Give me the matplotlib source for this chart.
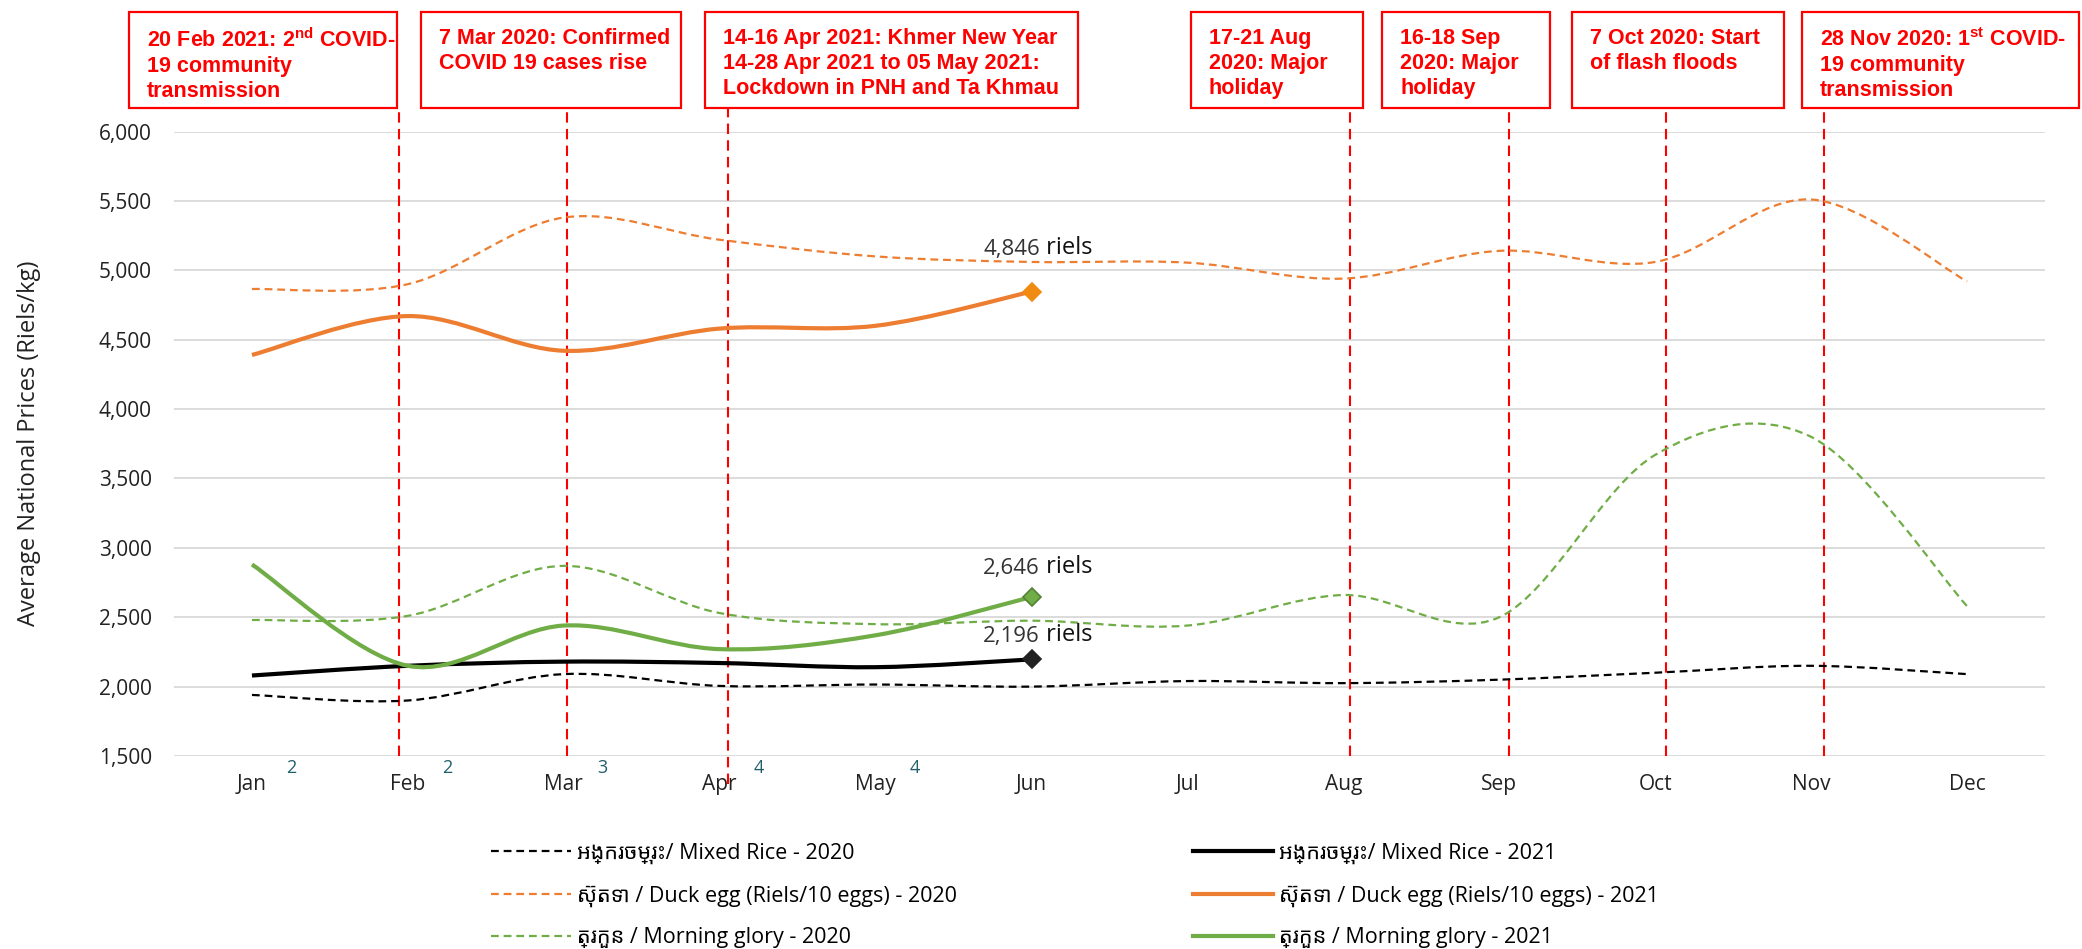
import matplotlib
matplotlib.use("Agg")
import matplotlib.pyplot as plt
from matplotlib.path import Path
from matplotlib.patches import PathPatch, Rectangle
from matplotlib.lines import Line2D
import matplotlib.transforms as mtransforms

plt.rcParams['font.family'] = ['Open Sans', 'Noto Sans Khmer', 'Khmer OS', 'Noto Sans', 'DejaVu Sans']
plt.rcParams['mathtext.fontset'] = 'custom'
plt.rcParams['mathtext.rm'] = 'Liberation Sans'
plt.rcParams['mathtext.bf'] = 'Liberation Sans:bold'

months = ['Jan', 'Feb', 'Mar', 'Apr', 'May', 'Jun', 'Jul', 'Aug', 'Sep', 'Oct', 'Nov', 'Dec']

rice_2020 = [1940, 1900, 2090, 2005, 2015, 2000, 2040, 2025, 2050, 2100, 2150, 2090]
rice_2021 = [2080, 2150, 2180, 2170, 2140, 2196]
egg_2020 = [4865, 4900, 5380, 5220, 5100, 5060, 5055, 4940, 5140, 5060, 5510, 4920]
egg_2021 = [4390, 4670, 4420, 4580, 4600, 4846]
mg_2020 = [2480, 2510, 2870, 2530, 2450, 2475, 2440, 2660, 2500, 3670, 3800, 2580]
mg_2021 = [2880, 2150, 2440, 2270, 2370, 2646]

week_counts = ['2', '2', '3', '4', '4']

event_x = [0.945, 2.02, 3.05, 7.04, 8.06, 9.07, 10.08]
event_text = [
    "20 Feb 2021: 2$^{\\mathbf{nd}}$ COVID-\n19 community\ntransmission",
    "7 Mar 2020: Confirmed\nCOVID 19 cases rise",
    "14-16 Apr 2021: Khmer New Year\n14-28 Apr 2021 to 05 May 2021:\nLockdown in PNH and Ta Khmau",
    "17-21 Aug\n2020: Major\nholiday",
    "16-18 Sep\n2020: Major\nholiday",
    "7 Oct 2020: Start\nof flash floods",
    "28 Nov 2020: 1$^{\\mathbf{st}}$ COVID-\n19 community\ntransmission",
]
# box left / right edges in figure pixels
box_px = [(129, 397), (421, 681), (705, 1078), (1191, 1363), (1382, 1550), (1572, 1784), (1802, 2079)]

labels_2020 = ["អង្ករចម្រុះ/ Mixed Rice - 2020",
               "ស៊ុតទា / Duck egg (Riels/10 eggs) - 2020",
               "ត្រកួន / Morning glory - 2020"]
labels_2021 = ["អង្ករចម្រុះ/ Mixed Rice - 2021",
               "ស៊ុតទា / Duck egg (Riels/10 eggs) - 2021",
               "ត្រកួន / Morning glory - 2021"]

BLACK = '#000000'
ORANGE = '#ED7D31'
GREEN = '#70AD47'
RED = '#FF0000'


def smooth_path(ys):
    pts = [(i, y) for i, y in enumerate(ys)]
    n = len(pts)
    verts = [pts[0]]
    codes = [Path.MOVETO]
    for i in range(n - 1):
        p0 = pts[i - 1] if i > 0 else pts[i]
        p1 = pts[i]
        p2 = pts[i + 1]
        p3 = pts[i + 2] if i + 2 < n else pts[i + 1]
        c1 = (p1[0] + (p2[0] - p0[0]) / 6, p1[1] + (p2[1] - p0[1]) / 6)
        c2 = (p2[0] - (p3[0] - p1[0]) / 6, p2[1] - (p3[1] - p1[1]) / 6)
        verts += [c1, c2, p2]
        codes += [Path.CURVE4] * 3
    return Path(verts, codes)


W, H = 2082, 949
fig = plt.figure(figsize=(W / 100, H / 100), dpi=100)
ax = fig.add_axes([174 / W, 1 - 756 / H, (2045 - 174) / W, (756 - 131.5) / H])

ax.set_xlim(-0.5, 11.5)
ax.set_ylim(1500, 6000)
ax.set_yticks(range(1500, 6001, 500))
ax.set_yticklabels([f"{v:,}" for v in range(1500, 6001, 500)])
ax.set_xticks(range(12))
ax.set_xticklabels(months)
ax.grid(axis='y', color='#D9D9D9', lw=1.3)
ax.set_axisbelow(True)
for s in ax.spines.values():
    s.set_visible(False)
ax.tick_params(axis='both', length=0, labelsize=15, colors='#222222')
ax.tick_params(axis='x', pad=13)
ax.tick_params(axis='y', pad=16)
ax.set_ylabel("Average National Prices (Riels/kg)", fontsize=17, color='#222222')
ax.yaxis.set_label_coords(-0.071, 0.5)

dash20 = (0, (3.5, 2.2))
series = [
    (rice_2020, BLACK, 1.6, dash20),
    (egg_2020, ORANGE, 1.6, dash20),
    (mg_2020, GREEN, 1.6, dash20),
    (rice_2021, BLACK, 3.0, '-'),
    (egg_2021, ORANGE, 3.0, '-'),
    (mg_2021, GREEN, 3.0, '-'),
]
for ys, c, lw, ls in series:
    ax.add_patch(PathPatch(smooth_path(ys), fill=False, edgecolor=c, lw=lw,
                           linestyle=ls, capstyle='butt', zorder=3))

# end markers and value labels for 2021
for ys, c, ec, off in [(egg_2021, '#F08A10', '#F08A10', 23),
                       (mg_2021, GREEN, '#548235', 13),
                       (rice_2021, '#222222', '#222222', 9)]:
    ax.plot([5], [ys[5]], marker='D', ms=9, color=c, mec=ec, mew=1.2, zorder=4)
    ax.annotate(f"{ys[5]:,}", (5, ys[5]), xytext=(6, off), textcoords='offset points',
                ha='right', va='bottom', fontsize=16, color='#333333')
    ax.annotate(" riels", (5, ys[5]), xytext=(6, off), textcoords='offset points',
                ha='left', va='bottom', fontsize=17, color='#111111')

# week counts under the axis
tr = mtransforms.blended_transform_factory(ax.transData, ax.transAxes)
for i, w in enumerate(week_counts):
    ax.text(i + 0.25, -0.02, w, transform=tr, ha='center', va='center',
            fontsize=13, color='#215E6B')

# event lines and boxes
for k, (x, txt, (l, r)) in enumerate(zip(event_x, event_text, box_px)):
    ymin = -0.045 if k == 2 else 0
    ax.axvline(x, ymin=ymin, ymax=1.038, color=RED, lw=1.5, ls=(0, (5, 3)),
               clip_on=False, zorder=2)
    fig.patches.append(Rectangle((l / W, 1 - 108 / H), (r - l) / W, 96 / H,
                                 transform=fig.transFigure, fill=False,
                                 edgecolor=RED, lw=1.6))
    fig.text((l + 18) / W, 1 - 28 / H, txt, ha='left', va='top', color=RED,
             fontsize=15.5, fontweight='bold', family='Liberation Sans',
             linespacing=1.26)

h20 = [Line2D([], [], color=c, lw=1.6, ls=dash20) for c in (BLACK, ORANGE, GREEN)]
h21 = [Line2D([], [], color=c, lw=3.0) for c in (BLACK, ORANGE, GREEN)]
for hs, labs, x0 in [(h20, labels_2020, 491), (h21, labels_2021, 1193)]:
    fig.legend(hs, labs, loc='upper left', bbox_to_anchor=(x0 / W, 1 - 843 / H),
               frameon=False, fontsize=15.5, handlelength=3.7, handletextpad=0.3,
               labelspacing=0.97, borderpad=0, borderaxespad=0)

fig.savefig("out.png", dpi=100)
